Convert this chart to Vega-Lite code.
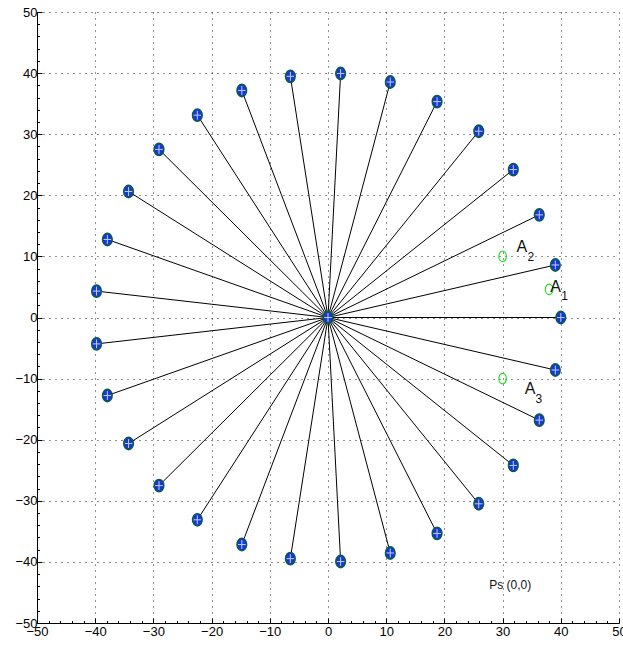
{
  "$schema": "https://vega.github.io/schema/vega-lite/v6.json",
  "width": 582,
  "height": 611,
  "autosize": "none",
  "padding": {"left": 37, "top": 12, "right": 4, "bottom": 26},
  "background": "white",
  "config": {
    "view": {"stroke": null},
    "axis": {
      "domainColor": "black",
      "domainWidth": 1,
      "tickColor": "black",
      "tickWidth": 1,
      "labelColor": "black",
      "labelFont": "Liberation Sans",
      "labelFontSize": 13,
      "title": null,
      "grid": true,
      "gridDash": [1, 5],
      "gridColor": "#222222",
      "gridWidth": 1
    }
  },
  "datasets": {
    "spokes": [
      {"x": 0, "y": 0, "x0": 0, "y0": 0},
      {"x": 40, "y": 0, "x0": 0, "y0": 0},
      {"x": 39.06, "y": 8.6, "x0": 0, "y0": 0},
      {"x": 36.3, "y": 16.8, "x0": 0, "y0": 0},
      {"x": 31.84, "y": 24.21, "x0": 0, "y0": 0},
      {"x": 25.9, "y": 30.49, "x0": 0, "y0": 0},
      {"x": 18.74, "y": 35.34, "x0": 0, "y0": 0},
      {"x": 10.7, "y": 38.54, "x0": 0, "y0": 0},
      {"x": 2.17, "y": 39.94, "x0": 0, "y0": 0},
      {"x": -6.47, "y": 39.47, "x0": 0, "y0": 0},
      {"x": -14.81, "y": 37.16, "x0": 0, "y0": 0},
      {"x": -22.45, "y": 33.11, "x0": 0, "y0": 0},
      {"x": -29.04, "y": 27.51, "x0": 0, "y0": 0},
      {"x": -34.27, "y": 20.62, "x0": 0, "y0": 0},
      {"x": -37.91, "y": 12.77, "x0": 0, "y0": 0},
      {"x": -39.77, "y": 4.32, "x0": 0, "y0": 0},
      {"x": -39.77, "y": -4.32, "x0": 0, "y0": 0},
      {"x": -37.91, "y": -12.77, "x0": 0, "y0": 0},
      {"x": -34.27, "y": -20.62, "x0": 0, "y0": 0},
      {"x": -29.04, "y": -27.51, "x0": 0, "y0": 0},
      {"x": -22.45, "y": -33.11, "x0": 0, "y0": 0},
      {"x": -14.81, "y": -37.16, "x0": 0, "y0": 0},
      {"x": -6.47, "y": -39.47, "x0": 0, "y0": 0},
      {"x": 2.17, "y": -39.94, "x0": 0, "y0": 0},
      {"x": 10.7, "y": -38.54, "x0": 0, "y0": 0},
      {"x": 18.74, "y": -35.34, "x0": 0, "y0": 0},
      {"x": 25.9, "y": -30.49, "x0": 0, "y0": 0},
      {"x": 31.84, "y": -24.21, "x0": 0, "y0": 0},
      {"x": 36.3, "y": -16.8, "x0": 0, "y0": 0},
      {"x": 39.06, "y": -8.6, "x0": 0, "y0": 0}
    ],
    "anchors": [
      {"name": "A1", "x": 38, "y": 4.6},
      {"name": "A2", "x": 30, "y": 10},
      {"name": "A3", "x": 30, "y": -10}
    ],
    "labels": [
      {"x": 39.1, "y": 5.0, "main": "A", "sub": "1"},
      {"x": 33.3, "y": 11.5, "main": "A", "sub": "2"},
      {"x": 34.7, "y": -11.75, "main": "A", "sub": "3"}
    ],
    "note": [
      {"x": 31.3, "y": -43.8, "text": "Ps (0,0)"}
    ]
  },
  "encoding": {
    "x": {
      "field": "x",
      "type": "quantitative",
      "scale": {"domain": [-50, 50], "nice": false, "zero": false},
      "axis": {
        "values": [-50,-48,-46,-44,-42,-40,-38,-36,-34,-32,-30,-28,-26,-24,-22,-20,-18,-16,-14,-12,-10,-8,-6,-4,-2,0,2,4,6,8,10,12,14,16,18,20,22,24,26,28,30,32,34,36,38,40,42,44,46,48,50],
        "labelExpr": "datum.value % 10 === 0 ? datum.label : ''",
        "tickSize": {"condition": {"test": "datum.value % 10 === 0", "value": -5}, "value": -2.5},
        "gridOpacity": {"condition": {"test": "datum.value % 10 === 0", "value": 1}, "value": 0},
        "labelPadding": 7,
        "labelFlush": false
      }
    },
    "y": {
      "field": "y",
      "type": "quantitative",
      "scale": {"domain": [-50, 50], "nice": false, "zero": false},
      "axis": {
        "values": [-50,-48,-46,-44,-42,-40,-38,-36,-34,-32,-30,-28,-26,-24,-22,-20,-18,-16,-14,-12,-10,-8,-6,-4,-2,0,2,4,6,8,10,12,14,16,18,20,22,24,26,28,30,32,34,36,38,40,42,44,46,48,50],
        "labelExpr": "datum.value % 10 === 0 ? datum.label : ''",
        "tickSize": {"condition": {"test": "datum.value % 10 === 0", "value": -5}, "value": -2.5},
        "gridOpacity": {"condition": {"test": "datum.value % 10 === 0", "value": 1}, "value": 0},
        "labelPadding": 5,
        "labelFlush": false
      }
    }
  },
  "layer": [
    {
      "data": {"name": "spokes"},
      "mark": {"type": "rule", "color": "black", "strokeWidth": 1},
      "encoding": {
        "x2": {"field": "x0"},
        "y2": {"field": "y0"}
      }
    },
    {
      "data": {"name": "spokes"},
      "mark": {
        "type": "point",
        "shape": "M-0.78,0 A0.78,1 0 1,0 0.78,0 A0.78,1 0 1,0 -0.78,0 Z",
        "size": 150,
        "filled": true,
        "fill": "#1a35e0",
        "stroke": "#0b5a4a",
        "strokeWidth": 1.6,
        "opacity": 1
      }
    },
    {
      "data": {"name": "spokes"},
      "mark": {
        "type": "point",
        "shape": "M0,-0.72 L0,0.72 M-0.62,0 L0.62,0",
        "size": 150,
        "filled": false,
        "stroke": "#b8d0ff",
        "strokeWidth": 1,
        "opacity": 1
      }
    },
    {
      "data": {"name": "anchors"},
      "mark": {
        "type": "point",
        "shape": "M-0.72,0 A0.72,1 0 1,0 0.72,0 A0.72,1 0 1,0 -0.72,0 Z",
        "size": 110,
        "filled": false,
        "stroke": "#22e022",
        "strokeWidth": 1.2,
        "opacity": 1
      }
    },
    {
      "data": {"name": "labels"},
      "mark": {
        "type": "text",
        "font": "Liberation Sans",
        "fontSize": 16,
        "color": "#111111",
        "align": "center",
        "baseline": "middle"
      },
      "encoding": {"text": {"field": "main"}}
    },
    {
      "data": {"name": "labels"},
      "mark": {
        "type": "text",
        "font": "Liberation Sans",
        "fontSize": 12,
        "color": "#111111",
        "align": "center",
        "baseline": "middle",
        "dx": 9,
        "dy": 9.5
      },
      "encoding": {"text": {"field": "sub"}}
    },
    {
      "data": {"name": "note"},
      "mark": {
        "type": "text",
        "font": "Liberation Sans",
        "fontSize": 12,
        "color": "#111111",
        "align": "center",
        "baseline": "middle"
      },
      "encoding": {"text": {"field": "text"}}
    }
  ]
}
